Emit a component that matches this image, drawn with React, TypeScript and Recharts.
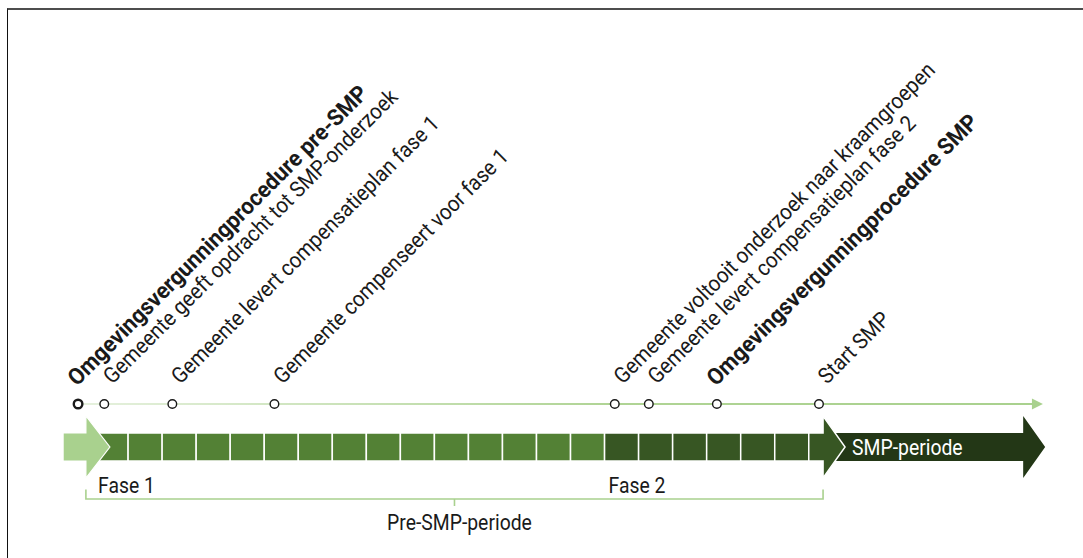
import React from "react";
import { ComposedChart, XAxis, YAxis, ReferenceArea, ReferenceLine, Scatter } from "recharts";

// ---- data ----
const eventLabels = [
  "Omgevingsvergunningprocedure pre-SMP",
  "Gemeente geeft opdracht tot SMP-onderzoek",
  "Gemeente levert compensatieplan fase 1",
  "Gemeente compenseert voor fase 1",
  "Gemeente voltooit onderzoek naar kraamgroepen",
  "Gemeente levert compensatieplan fase 2",
  "Omgevingsvergunningprocedure SMP",
  "Start SMP",
];
const eventMonths = [-0.47, 0.3, 2.3, 5.3, 15.3, 16.3, 18.3, 21.3];
const eventBold = [true, false, false, false, false, false, true, false];
const eventStrongMarker = [true, false, false, false, false, false, false, false];

const phaseLabels = ["Fase 1", "Fase 2"];
const phaseStarts = [0, 15];
const phaseEnds = [15, 21];

const periodLabels = ["Pre-SMP-periode", "SMP-periode"];
const periodStarts = [-0.24, 21.42];
const periodEnds = [21.42, 27.3];

const leadInStart = -0.91;
const timelineEnd = 27.88;

// ---- layout rows (y units) ----
const ROW_TIMELINE = 2.8;
const BAR_TOP = 2.2727;
const BAR_BOTTOM = 1.7636;
const BRACKET_BOTTOM = 1.0727;
const BRACKET_TOP = 1.245;

// ---- styles ----
const LIGHT = "#a9d18e";
const MID = "#538135";
const DARK = "#375623";
const DARKEST = "#233716";
const TEXT = "#1a1a1a";
const FONT = "Roboto, 'Open Sans', sans-serif";

const events = eventLabels.map((label, i) => ({
  x: eventMonths[i],
  y: ROW_TIMELINE,
  label,
  bold: eventBold[i],
  strong: eventStrongMarker[i],
}));

const cells: { x1: number; x2: number; fill: string }[] = [];
phaseStarts.forEach((s, p) => {
  for (let i = s; i < phaseEnds[p]; i++) {
    cells.push({ x1: i, x2: i + 1, fill: p === 0 ? MID : DARK });
  }
});

const arrowPoints = (x: number, y: number, w: number, h: number, head: number, flare: number) => {
  const cy = y + h / 2;
  const bx = x + w;
  return `${x},${y} ${bx},${y} ${bx},${y - flare} ${bx + head},${cy} ${bx},${y + h + flare} ${bx},${y + h} ${x},${y + h}`;
};

const HText = (props: { x: number; y: number; fill?: string; anchor?: string; children: React.ReactNode }) => (
  <text
    x={0}
    y={0}
    transform={`translate(${props.x} ${props.y}) scale(0.88 1)`}
    fill={props.fill || TEXT}
    fontFamily={FONT}
    fontSize={22}
    textAnchor={props.anchor || "start"}
  >
    {props.children}
  </text>
);

const EventShape = (props: any) => {
  const { cx, cy, payload } = props;
  const bold = payload.bold;
  const tx = cx + (bold ? -1 : 8);
  const ty = cy - (bold ? 17 : 19);
  return (
    <g>
      <circle cx={cx} cy={cy} r={4.3} fill="#fff" stroke={TEXT} strokeWidth={payload.strong ? 2.4 : 1.4} />
      <text
        x={0}
        y={0}
        transform={`translate(${tx} ${ty}) rotate(-45) scale(${bold ? 0.95 : 0.92} 1)`}
        fontFamily={FONT}
        fontSize={bold ? 23 : 22}
        fontWeight={bold ? 700 : 400}
        fill={TEXT}
      >
        {payload.label}
      </text>
    </g>
  );
};

const TimelineShape = (props: any) => {
  const { x1, y1, x2 } = props;
  return (
    <g>
      <defs>
        <linearGradient id="tlgrad" gradientUnits="userSpaceOnUse" x1={x1} y1={0} x2={x2} y2={0}>
          <stop offset="0" stopColor="#e6f1de" />
          <stop offset="0.55" stopColor="#b0d495" />
          <stop offset="1" stopColor={LIGHT} />
        </linearGradient>
      </defs>
      <line x1={x1} y1={y1} x2={x2 - 9} y2={y1} stroke="url(#tlgrad)" strokeWidth={2.2} />
      <polygon points={`${x2 - 11},${y1 - 5.5} ${x2},${y1} ${x2 - 11},${y1 + 5.5}`} fill={LIGHT} />
    </g>
  );
};

export default function App() {
  return (
    <div style={{ position: "absolute", left: 0, top: 0, width: 1083, height: 558, background: "#fff" }}>
      <div
        style={{
          position: "absolute",
          left: 7,
          top: 8,
          width: 1076,
          height: 550,
          boxSizing: "border-box",
          borderTop: "2px solid #4d4d4d",
          borderLeft: "1.6px solid #111",
        }}
      />
      <div style={{ position: "absolute", left: 0, top: 0 }}>
        <ComposedChart width={1083} height={558} margin={{ top: 8, right: 36, bottom: 0, left: 26 }}>
          <XAxis type="number" dataKey="x" domain={[-2, 28]} hide allowDataOverflow />
          <YAxis type="number" dataKey="y" domain={[0, 10]} hide allowDataOverflow />

          {/* SMP period arrow */}
          <ReferenceArea
            x1={periodStarts[1]}
            x2={periodEnds[1]}
            y1={BAR_BOTTOM}
            y2={BAR_TOP}
            ifOverflow="visible"
            shape={(p: any) => (
              <g>
                <polygon points={arrowPoints(p.x, p.y, p.width, p.height, 22, 17)} fill={DARKEST} />
                <HText x={p.x + 29} y={p.y + p.height / 2 + 8} fill="#fff">
                  {periodLabels[1]}
                </HText>
              </g>
            )}
          />

          {/* phase cells */}
          {cells.map((c, i) => (
            <ReferenceArea
              key={`c${i}`}
              x1={c.x1}
              x2={c.x2}
              y1={BAR_BOTTOM}
              y2={BAR_TOP}
              ifOverflow="visible"
              shape={(p: any) => (
                <rect x={p.x} y={p.y} width={p.width} height={p.height} fill={c.fill} stroke="#fff" strokeWidth={1.5} />
              )}
            />
          ))}

          {/* end arrow of fase 2 */}
          <ReferenceArea
            x1={phaseEnds[1]}
            x2={periodEnds[0]}
            y1={BAR_BOTTOM}
            y2={BAR_TOP}
            ifOverflow="visible"
            shape={(p: any) => (
              <polygon
                points={arrowPoints(p.x, p.y, p.width, p.height, 22, 17)}
                fill={DARK}
                stroke="#fff"
                strokeWidth={1.5}
              />
            )}
          />

          {/* lead-in arrow */}
          <ReferenceArea
            x1={leadInStart}
            x2={periodStarts[0]}
            y1={BAR_BOTTOM}
            y2={BAR_TOP}
            ifOverflow="visible"
            shape={(p: any) => (
              <polygon
                points={arrowPoints(p.x, p.y, p.width, p.height, 24, 17)}
                fill={LIGHT}
                stroke="#fff"
                strokeWidth={1.2}
              />
            )}
          />

          {/* phase labels */}
          {phaseLabels.map((lab, i) => (
            <ReferenceArea
              key={`pl${i}`}
              x1={phaseStarts[i]}
              x2={phaseEnds[i]}
              y1={BAR_BOTTOM}
              y2={BAR_TOP}
              ifOverflow="visible"
              shape={(p: any) => (
                <HText x={p.x + 4} y={p.y + p.height + 32}>
                  {lab}
                </HText>
              )}
            />
          ))}

          {/* pre-SMP bracket */}
          <ReferenceArea
            x1={periodStarts[0]}
            x2={periodEnds[0]}
            y1={BRACKET_BOTTOM}
            y2={BRACKET_TOP}
            ifOverflow="visible"
            shape={(p: any) => {
              const cx = p.x + p.width / 2;
              const b = p.y + p.height;
              return (
                <g>
                  <path
                    d={`M${p.x},${p.y} V${b} H${p.x + p.width} V${p.y} M${cx},${b} V${b + 7}`}
                    fill="none"
                    stroke={LIGHT}
                    strokeWidth={1.6}
                  />
                  <HText x={cx + 5} y={b + 31} anchor="middle">
                    {periodLabels[0]}
                  </HText>
                </g>
              );
            }}
          />

          {/* timeline */}
          <ReferenceLine
            segment={[
              { x: eventMonths[0], y: ROW_TIMELINE },
              { x: timelineEnd, y: ROW_TIMELINE },
            ]}
            ifOverflow="visible"
            shape={TimelineShape}
          />

          <Scatter data={events} dataKey="y" isAnimationActive={false} shape={EventShape} />
        </ComposedChart>
      </div>
    </div>
  );
}
